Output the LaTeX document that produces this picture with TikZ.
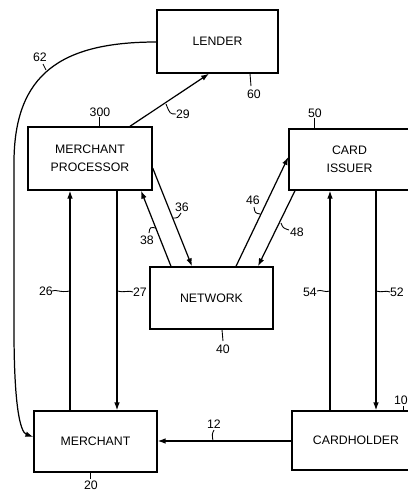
\documentclass[tikz,border=0pt]{standalone}
\usepackage{fontspec}
\setmainfont{Liberation Sans}
\usetikzlibrary{arrows.meta}
\begin{document}
\begin{tikzpicture}[x=0.02cm,y=-0.02cm,
  box/.style={draw,line width=0.8pt,inner sep=0pt,align=center,font=\fontsize{7}{10}\selectfont},
  arr/.style={line width=0.7pt,-{Latex[length=4.5pt,width=3.2pt]}},
  lbl/.style={inner sep=0pt,font=\fontsize{7}{8}\selectfont},
  tick/.style={line width=0.5pt}]
\useasboundingbox (0,0) rectangle (408,491);
% boxes
\node[box,minimum width=2.42cm,minimum height=1.26cm] (lender) at (217.5,41.5) {LENDER};
\node[box,minimum width=2.48cm,minimum height=1.26cm] (mp) at (90,158.5) {MERCHANT\\PROCESSOR};
\node[box,minimum width=2.42cm,minimum height=1.22cm] (ci) at (349.5,159.5) {CARD\\ISSUER};
\node[box,minimum width=2.46cm,minimum height=1.24cm] (net) at (211.5,298) {NETWORK};
\node[box,minimum width=2.46cm,minimum height=1.22cm] (merch) at (95.5,441.5) {MERCHANT};
\node[box,minimum width=2.56cm,minimum height=1.18cm] (ch) at (356,440.5) {CARDHOLDER};
% connectors
\draw[arr] (mp.north -| 130,0) -- (lender.south -| 209,0);
\draw[arr] (mp.east |- 0,168) -- (net.north -| 192,0);
\draw[arr] (net.north -| 171,0) -- (mp.south -| 141,0);
\draw[arr] (net.north -| 236,0) -- (ci.west |- 0,157);
\draw[arr] (ci.south -| 295,0) -- (net.north -| 258,0);
\draw[arr] (merch.north -| 70,0) -- (mp.south -| 70,0);
\draw[arr] (mp.south -| 117,0) -- (merch.north -| 117,0);
\draw[arr] (ch.north -| 330,0) -- (ci.south -| 330,0);
\draw[arr] (ci.south -| 376,0) -- (ch.north -| 376,0);
\draw[arr] (ch.west |- 0,441) -- (merch.east |- 0,441);
\draw[arr] (lender.west |- 0,42) .. controls (60,42) and (15,75) .. (14,160) -- (14,330) .. controls (14,405) and (20,432) .. (merch.west |- 0,437);
% labels
\node[lbl] (l300) at (100,112) {300};
\draw[tick] (l300.south -| 99,0) -- (mp.north -| 99,0);
\node[lbl] (l50) at (315,113) {50};
\draw[tick] (l50.south -| 314,0) -- (ci.north -| 314,0);
\node[lbl] (l60) at (254,94) {60};
\draw[tick] (lender.south -| 250,0) -- (251,86);
\node[lbl] (l40) at (223,349) {40};
\draw[tick] (net.south -| 222,0) -- (223,341);
\node[lbl] (l20) at (91,485) {20};
\draw[tick] (merch.south -| 90,0) -- (90,479);
\node[lbl] (l10) at (401,400) {10};
\draw[tick] (ch.north -| 403,0) -- (403,406);
\node[lbl] (l62) at (40,57) {62};
\draw[tick] (43,64) .. controls (44,67) .. (46,70);
\node[lbl] (l29) at (183,114) {29};
\draw[tick] (176,114) .. controls (170,114) .. (166,104);
\node[lbl] (l36) at (182,207) {36};
\draw[tick] (181,213) .. controls (178,218) .. (173,218);
\node[lbl] (l38) at (147,240) {38};
\draw[tick] (149,233) .. controls (150,227) .. (156,228);
\node[lbl] (l46) at (253,200) {46};
\draw[tick] (254,207) .. controls (255,213) .. (260,214);
\node[lbl] (l48) at (297,232) {48};
\draw[tick] (289,230) .. controls (283,228) .. (281,223);
\node[lbl] (l26) at (46,291) {26};
\draw[tick] (52,291) .. controls (56,289) and (60,293) .. (70,291);
\node[lbl] (l27) at (140,292) {27};
\draw[tick] (133,292) .. controls (129,290) and (124,293) .. (117,291);
\node[lbl] (l54) at (310,292) {54};
\draw[tick] (317,291) .. controls (321,289) and (325,293) .. (330,291);
\node[lbl] (l52) at (397,292) {52};
\draw[tick] (390,292) .. controls (386,290) and (382,293) .. (376,291);
\node[lbl] (l12) at (214,424) {12};
\draw[tick] (214,430) .. controls (212,434) .. (213,441);
\end{tikzpicture}
\end{document}
